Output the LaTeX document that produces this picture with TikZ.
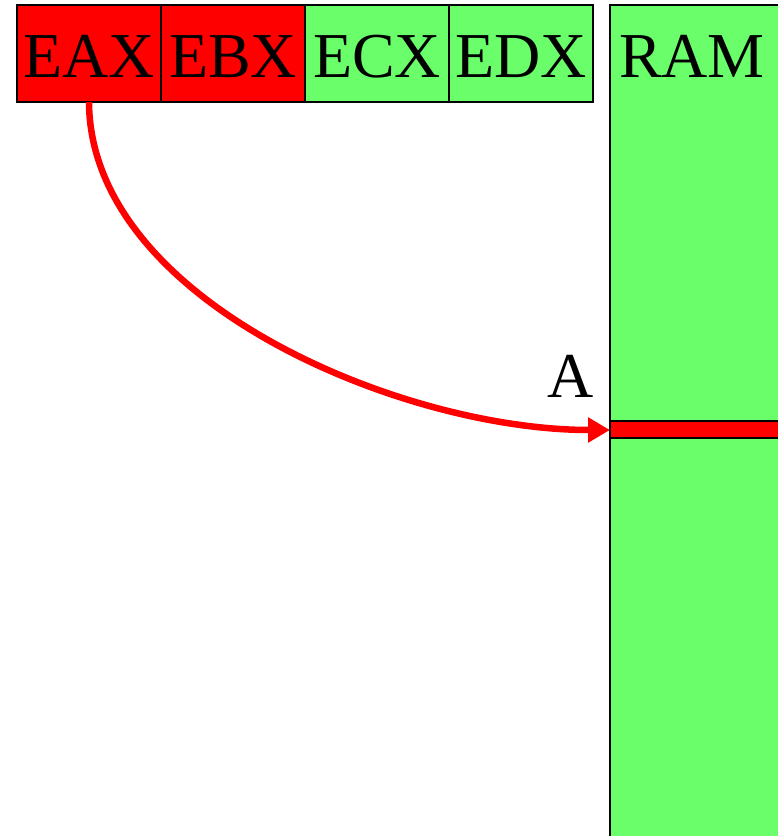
\documentclass[tikz,border=0pt]{standalone}
\usepackage{fontspec}
\setmainfont{Liberation Serif}
\usetikzlibrary{arrows.meta}
\definecolor{regred}{RGB}{255,0,0}
\definecolor{reggreen}{RGB}{106,255,106}
\begin{document}
\begin{tikzpicture}[x=1pt,y=-1pt,
  reg/.style={draw=black,line width=1.6pt,minimum width=144pt,minimum height=97pt,inner sep=0pt,outer sep=0pt,anchor=north west,text height=47pt,text depth=0pt,font=\fontsize{64}{64}\selectfont},
  lbl/.style={font=\fontsize{64}{64}\selectfont,inner sep=0pt}]
\useasboundingbox (0,0) rectangle (778,836);
\clip (0,0) rectangle (778,836);
\node[reg,fill=regred] (eax) at (17,5) {EAX};
\node[reg,fill=regred] (ebx) at (161,5) {EBX};
\node[reg,fill=reggreen] (ecx) at (305,5) {ECX};
\node[reg,fill=reggreen] (edx) at (449,5) {EDX};
\draw[line width=1.6pt,fill=reggreen] (610,5) rectangle (800,860);
\node[lbl,anchor=base] (ram) at (692,77) {RAM};
\draw[line width=1.6pt,fill=regred] (610,421) rectangle (800,438);
\coordinate (cell) at (610,430);
\node[lbl,anchor=base east] (a) at (594,397) {A};
\draw[regred,line width=6.5pt,-{Triangle[length=22pt,width=24pt]}]
  (eax.south) .. controls (90,300) and (400,430) .. (cell);
\end{tikzpicture}
\end{document}
